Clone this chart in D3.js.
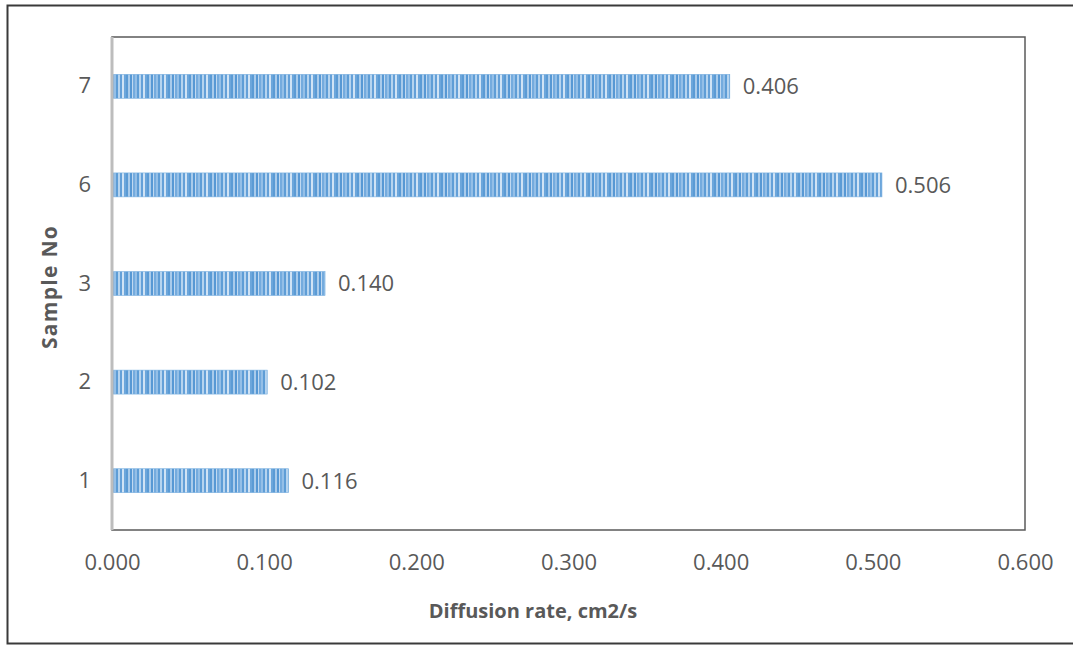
<!DOCTYPE html>
<html>
<head>
<meta charset="utf-8">
<script src="https://cdn.jsdelivr.net/npm/d3@7"></script>
<style>
  html, body { margin: 0; padding: 0; background: #fff; }
  svg { display: block; }
  text { font-family: "Open Sans", "Liberation Sans", sans-serif; }
</style>
</head>
<body>
<svg id="chart" width="1073" height="646"></svg>
<script>
// Samples, top to bottom
const samples = ["7", "6", "3", "2", "1"];
const rates = [0.406, 0.506, 0.140, 0.102, 0.116];
const xTicks = [0, 0.1, 0.2, 0.3, 0.4, 0.5, 0.6];
const xTitle = "Diffusion rate, cm2/s";
const yTitle = "Sample No";

const svg = d3.select("#chart");
const plot = { left: 112, right: 1025, top: 37, bottom: 530 };

// Outer frame
svg.append("rect")
  .attr("x", 7.5).attr("y", 5.5)
  .attr("width", 1080).attr("height", 638)
  .attr("fill", "#fff").attr("stroke", "#3a3a3a").attr("stroke-width", 2);

// Vertical striped fill for the bars
const defs = svg.append("defs");
const pat = defs.append("pattern")
  .attr("id", "stripes")
  .attr("patternUnits", "userSpaceOnUse")
  .attr("width", 21).attr("height", 10);
const stripeCols = ["#5b9bd5", "#a9cbeb", "#5798d4", "#c0d9f1", "#74abde", "#94bfe7", "#5e9dd6",
                    "#b6d4ef", "#64a0d8", "#d0e3f5", "#6ca6db"];
const stripeW = [2, 2, 2, 1, 2, 2, 2, 2, 2, 2, 2];
const stripeX = stripeW.map((w, i) => d3.sum(stripeW.slice(0, i)));
pat.selectAll("rect").data(stripeCols).join("rect")
  .attr("x", (d, i) => stripeX[i]).attr("y", 0)
  .attr("width", (d, i) => stripeW[i]).attr("height", 10)
  .attr("fill", d => d);

const x = d3.scaleLinear().domain([0, 0.6]).range([plot.left, plot.right]);
const y = d3.scaleBand().domain(samples).range([plot.top, plot.bottom])
  .paddingInner(0.757).paddingOuter(0.3785);

// Plot area frame
svg.append("rect")
  .attr("x", plot.left).attr("y", plot.top)
  .attr("width", plot.right - plot.left).attr("height", plot.bottom - plot.top)
  .attr("fill", "none").attr("stroke", "#5a5a5a").attr("stroke-width", 1.5);

// Bars
const data = samples.map((s, i) => ({ s, v: rates[i] }));
svg.append("g").selectAll("rect").data(data).join("rect")
  .attr("x", x(0)).attr("y", d => y(d.s))
  .attr("width", d => x(d.v) - x(0)).attr("height", y.bandwidth())
  .attr("fill", "url(#stripes)")
  .attr("stroke", "#7ab0e0").attr("stroke-width", 0.6);

// Category axis line
svg.append("line")
  .attr("x1", plot.left).attr("x2", plot.left)
  .attr("y1", plot.top).attr("y2", plot.bottom)
  .attr("stroke", "#bdbdbd").attr("stroke-width", 3);

// Value labels
svg.append("g").selectAll("text").data(data).join("text")
  .attr("x", d => x(d.v) + 13)
  .attr("y", d => y(d.s) + y.bandwidth() / 2)
  .attr("dy", "0.36em")
  .attr("font-size", 22).attr("fill", "#595959")
  .text(d => d.v.toFixed(3));

// X axis ticks
const xAxis = d3.axisBottom(x).tickValues(xTicks).tickFormat(d3.format(".3f")).tickSize(0).tickPadding(0);
const gx = svg.append("g").attr("transform", `translate(0,${plot.bottom + 40})`).call(xAxis);
gx.select(".domain").remove();
gx.selectAll("text").attr("font-size", 22).attr("fill", "#595959")
  .attr("font-family", "'Open Sans', sans-serif").attr("dy", "0");

// Y axis ticks
const yAxis = d3.axisLeft(y).tickSize(0).tickPadding(21);
const gy = svg.append("g").attr("transform", `translate(${plot.left},0)`).call(yAxis);
gy.select(".domain").remove();
gy.selectAll("text").attr("font-size", 22).attr("fill", "#595959")
  .attr("font-family", "'Open Sans', sans-serif");

// Axis titles
svg.append("text")
  .attr("x", 533).attr("y", 611)
  .attr("dy", "0.35em").attr("text-anchor", "middle")
  .attr("font-size", 20).attr("font-weight", "bold").attr("fill", "#595959")
  .text(xTitle);

svg.append("text")
  .attr("transform", `translate(50,287) rotate(-90)`)
  .attr("dy", "0.35em").attr("text-anchor", "middle")
  .attr("font-size", 21).attr("font-weight", "bold").attr("fill", "#595959")
  .attr("letter-spacing", 1.3)
  .text(yTitle);
</script>
</body>
</html>
